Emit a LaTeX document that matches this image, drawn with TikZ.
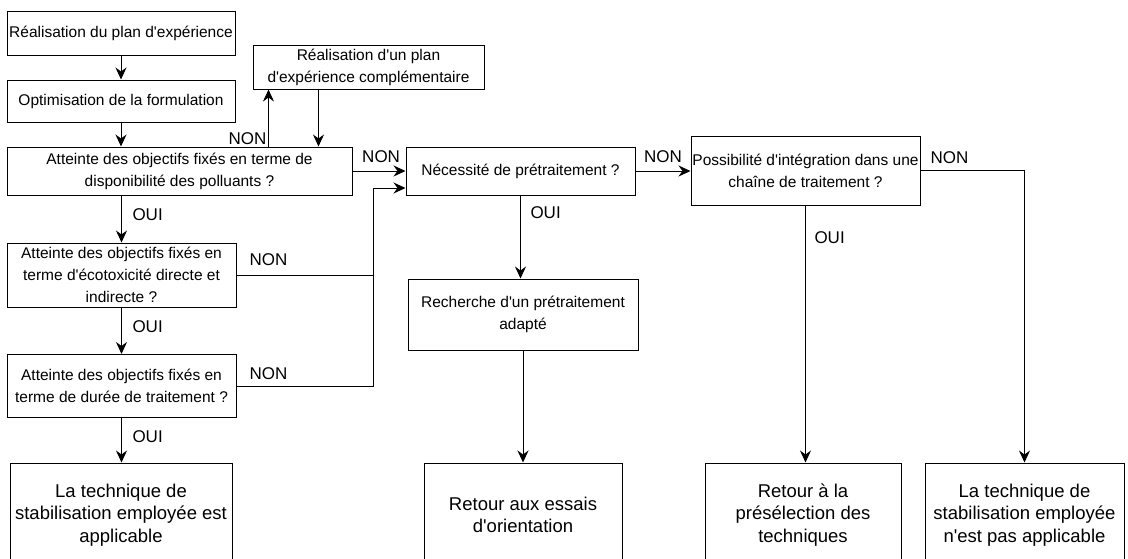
\documentclass[tikz,border=0pt]{standalone}
\usepackage{fontspec}
\setmainfont{Liberation Sans}[Ligatures=TeXOff]
\usetikzlibrary{arrows.meta,calc}

\tikzset{
  box/.style={draw, line width=1pt, align=center, inner xsep=0pt, inner ysep=2pt, font=\fontsize{15.5}{22}\selectfont},
  endbox/.style={draw, line width=1pt, align=center, inner sep=0pt, minimum height=104, font=\fontsize{18.5}{22.5}\selectfont},
  arr/.style={line width=1pt, -{Stealth[length=12pt,width=11pt,inset=4pt]}},
  lin/.style={line width=1pt},
  lbl/.style={font=\fontsize{17}{18}\selectfont, inner sep=1pt}
}

\begin{document}
\begin{tikzpicture}[x=1pt,y=1pt,yscale=-1,xscale=1]
    \useasboundingbox (0,0) rectangle (1128,558);
    \clip (0,0) rectangle (1128,558);

    \node[box, minimum width=228, minimum height=44] (plan) at (121,33) {Réalisation du plan d'expérience};
    \node[box, minimum width=228, minimum height=42] (optim) at (121,101) {Optimisation de la formulation};
    \node[box, minimum width=345, minimum height=48] (dispo) at (179.5,171) {Atteinte des objectifs fixés en terme de\\disponibilité des polluants ?};
    \node[box, minimum width=231, minimum height=44] (compl) at (368.5,67) {Réalisation d'un plan\\d'expérience complémentaire};
    \node[box, minimum width=229, minimum height=64] (ecotox) at (121.5,275) {Atteinte des objectifs fixés en\\terme d'écotoxicité directe et\\indirecte ?};
    \node[box, minimum width=229, minimum height=63] (duree) at (121.5,386) {Atteinte des objectifs fixés en\\terme de durée de traitement ?};
    \node[box, minimum width=229, minimum height=48] (pretr) at (520.5,171) {Nécessité de prétraitement ?};
    \node[box, minimum width=230, minimum height=71] (recherche) at (523,314.5) {Recherche d'un prétraitement\\adapté};
    \node[box, minimum width=229, minimum height=69] (chaine) at (805.5,170.5) {Possibilité d'intégration dans une\\chaîne de traitement ?};

    \node[endbox, minimum width=222] (applic) at (121,515) {La technique de\\stabilisation employée est\\applicable};
    \node[endbox, minimum width=198] (essais) at (523,515) {Retour aux essais\\d'orientation};
    \node[endbox, minimum width=196] (presel) at (803,515) {Retour à la\\présélection des\\techniques};
    \node[endbox, minimum width=199] (nonapplic) at (1024.5,515) {La technique de\\stabilisation employée\\n'est pas applicable};

    \coordinate (up) at ($(compl.south west)+(16,0)$);
    \coordinate (down) at ($(compl.south west)+(66,0)$);
    \coordinate (merge) at ($(pretr.west)+(-32,17)$);

    \draw[arr] (plan) -- (optim);
    \draw[arr] (optim.south) -- (optim.south |- dispo.north);
    \draw[arr] (up |- dispo.north) node[lbl, anchor=south east, outer sep=1pt]{NON} -- (up);
    \draw[arr] (down) -- (down |- dispo.north);
    \draw[arr] (ecotox.north |- dispo.south) -- node[lbl, pos=0.4, anchor=west, outer xsep=10pt]{OUI} (ecotox.north);
    \draw[arr] (ecotox) -- node[lbl, pos=0.42, anchor=west, outer xsep=10pt]{OUI} (duree);
    \draw[arr] (duree.south) -- node[lbl, pos=0.42, anchor=west, outer xsep=10pt]{OUI} (duree.south |- applic.north);
    \draw[arr] (dispo.east) -- node[lbl, pos=0.54, anchor=south, outer ysep=7pt]{NON} (pretr.west);
    \draw[lin] (ecotox.east) node[lbl, anchor=south west, outer xsep=12pt, outer ysep=8pt]{NON} -- (ecotox.east -| merge);
    \draw[arr] (duree.east) node[lbl, anchor=south west, outer xsep=12pt, outer ysep=5pt]{NON} -| (merge) -- (merge -| pretr.west);
    \draw[arr] (pretr.east) -- node[lbl, anchor=south, outer ysep=7pt]{NON} (pretr.east -| chaine.west);
    \draw[arr] (pretr.south) -- node[lbl, pos=0.21, anchor=west, outer xsep=9pt]{OUI} (pretr.south |- recherche.north);
    \draw[arr] (recherche.south) -- (recherche.south |- essais.north);
    \draw[arr] (chaine.south) -- node[lbl, pos=0.124, anchor=west, outer xsep=8pt]{OUI} (chaine.south |- presel.north);
    \draw[arr] (chaine.east) node[lbl, anchor=south west, outer xsep=9pt, outer ysep=6pt]{NON} -| (nonapplic.north);
\end{tikzpicture}
\end{document}
